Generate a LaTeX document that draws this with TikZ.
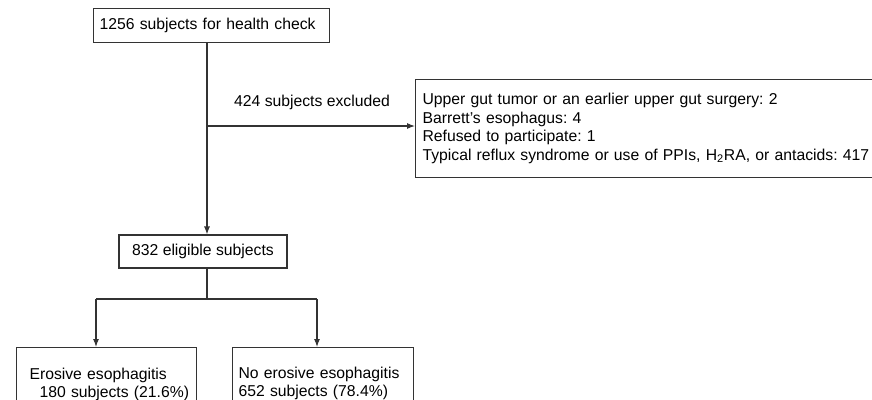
\documentclass[tikz,border=0pt]{standalone}
\usepackage{fontspec}
\setmainfont{Liberation Sans}
\usetikzlibrary{positioning,calc,arrows.meta}

\begin{document}
\begin{tikzpicture}[x=0.75pt, y=-0.75pt,
    font=\fontsize{11.8pt}{13.9pt}\selectfont\frenchspacing,
    flowbox/.style={draw=black!80, line width=0.8pt, align=left, inner ysep=0pt},
    flowline/.style={draw=black!80, line width=0.8pt},
    flowarrow/.style={flowline, -{Latex[length=6pt,width=4.5pt]}}]
    \useasboundingbox (0,0) rectangle (872,400);
    \clip (0,0) rectangle (872,400);

    % Subjects checked
    \node[flowbox, anchor=north west, text width=168pt, inner xsep=4.5pt, minimum height=25.5pt] (check) at (93,8) {1256 subjects for health check};

    % Exclusions
    \node[flowbox, anchor=north west, text width=352.5pt, inner xsep=5.25pt, minimum height=73.5pt] (excl) at (415,79) {Upper gut tumor or an earlier upper gut surgery: 2\\
        Barrett's esophagus: 4\\
        Refused to participate: 1\\
        Typical reflux syndrome or use of PPIs, H\textsubscript{2}RA, or antacids: 417};

    % Eligible
    \node[flowbox, align=center, minimum width=126pt, minimum height=24.75pt] (eligible) at (203,251.5) {832 eligible subjects};

    % Outcome groups
    \node[flowbox, anchor=north west, text width=130pt, inner xsep=2.5pt, minimum height=55.5pt] (ee) at (16,347) {\hspace*{7.25pt}Erosive esophagitis\\
        \hspace*{14.75pt}180 subjects (21.6\%)};
    \node[flowbox, anchor=north west, text width=126.75pt, inner xsep=4.5pt, minimum height=54pt] (noee) at (232,347) {No erosive esophagitis\\
        652 subjects (78.4\%)};

    % Connectors
    \coordinate (split) at (207,126);
    \coordinate (fork) at (207,299);
    \coordinate (lfork) at (96,299);
    \coordinate (rfork) at (317,299);

    \draw[flowarrow] (check.south -| split) -- (eligible.north -| split);
    \draw[flowarrow] (split) -- (excl.west |- split);
    \node (exlabel) at (312,102) {424 subjects excluded};

    \draw[flowline] (eligible.south -| fork) -- (fork);
    \draw[flowline] (lfork) -- (rfork);
    \draw[flowarrow] (lfork) -- (ee.north -| lfork);
    \draw[flowarrow] (rfork) -- (noee.north -| rfork);
\end{tikzpicture}
\end{document}
